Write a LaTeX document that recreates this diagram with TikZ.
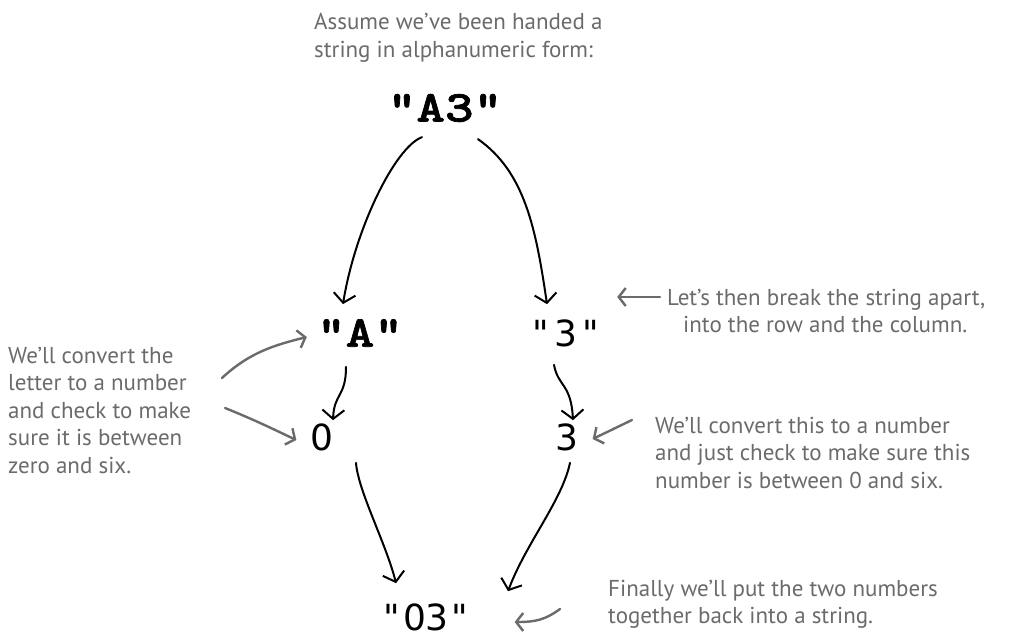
\documentclass[tikz,border=0pt]{standalone}
\usepackage{fontspec}
\setmainfont{PT Sans}
\newfontfamily\codefont{lmmonolt10-bold.otf}[FakeBold=1.6,FakeStretch=1.24]
\newfontfamily\numfont{DejaVu Sans}
\newfontfamily\handfont{PT Sans}
\usetikzlibrary{arrows.meta,calc}
\definecolor{notegray}{HTML}{6B6B6B}
\begin{document}
\begin{tikzpicture}[x=1pt,y=-1pt,
  code/.style={font=\codefont\fontsize{44}{44}\selectfont, inner sep=0pt},
  num/.style={font=\numfont\fontsize{36}{36}\selectfont, inner sep=0pt},
  note/.style={font=\handfont\fontsize{23}{27.5}\selectfont, text=notegray, inner sep=0pt, align=left, anchor=north west},
  flow/.style={line width=2pt, line cap=round, -{Straight Barb[length=9pt,width=22pt,line width=2pt]}},
  point/.style={line width=2.4pt, draw=notegray, line cap=round, -{Straight Barb[length=7pt,width=18pt,line width=2.4pt]}}]
\useasboundingbox (0,0) rectangle (1033,642);
\fill[white] (0,0) rectangle (1033,642);

% main nodes
\node[code] (a3) at (445,108) {"A3"};
\node[code] (sa) at (360,333) {"A"};
\node[num]  (s3) at (566,333) {"\hspace{5pt}3\hspace{5pt}"};
\node[num]  (n0) at (322,437) {0};
\node[num]  (n3) at (567,437) {3};
\node[num]  (s03) at (426,617) {"\hspace{3pt}03\hspace{3pt}"};

% notes
\node[note] (ntop) at (314,13) {Assume we’ve been handed a\\string in alphanumeric form:};
\node[note] (nsplit) at (667,289) {Let’s then break the string apart,\\\hspace*{16pt}into the row and the column.};
\node[note] (nleft) at (8,347) {We’ll convert the\\letter to a number\\and check to make\\sure it is between\\zero and six.};
\node[note] (nright) at (655,417) {We’ll convert this to a number\\and just check to make sure this\\number is between 0 and six.};
\node[note] (nbottom) at (608,580) {Finally we’ll put the two numbers\\together back into a string.};

% flow arrows
\draw[flow] ($(a3.south)+(-23,15)$) .. controls ($(a3.south)+(-50,25)$) and ($(sa.north)+(-5,-90)$) .. ($(sa.north)+(-17,-15)$);
\draw[flow] ($(a3.south)+(33,17)$) .. controls ($(a3.south)+(80,50)$) and ($(s3.north)+(-30,-90)$) .. ($(s3.north)+(-19,-15)$);
\draw[flow] ($(sa.south)+(-14,20)$) .. controls ($(sa.south)+(-14,50)$) and ($(n0.north)+(12,-30)$) .. ($(n0.north)+(11,-3)$);
\draw[flow] ($(s3.south)+(-12,18)$) .. controls ($(s3.south)+(-8,40)$) and ($(n3.north)+(4,-40)$) .. ($(n3.north)+(6,-3)$);
\draw[flow] ($(n0.south)+(34,12)$) .. controls ($(n0.south)+(36,40)$) and ($(s03.north)+(-40,-60)$) .. ($(s03.north)+(-30,-20)$);
\draw[flow] ($(n3.south)+(3,12)$) .. controls ($(n3.south)+(-5,50)$) and ($(s03.north)+(100,-60)$) .. ($(s03.north)+(82,-12)$);

% pointer arrows
\coordinate (p1) at (660,297);
\draw[point] (p1) -- ($(s3.east)+(18,-36)$);
\coordinate (p2) at (222,378);
\draw[point] (p2) .. controls (250,352) and (275,345) .. ($(sa.west)+(-10,4)$);
\coordinate (p3) at (225,408);
\draw[point] (p3) .. controls (255,420) and (275,430) .. ($(n0.west)+(-14,3)$);
\coordinate (p4) at (632,420);
\draw[point] (p4) -- ($(n3.east)+(14,2)$);
\coordinate (p5) at (560,609);
\draw[point] (p5) .. controls (545,620) and (535,622) .. ($(s03.east)+(46,5)$);
\end{tikzpicture}
\end{document}
